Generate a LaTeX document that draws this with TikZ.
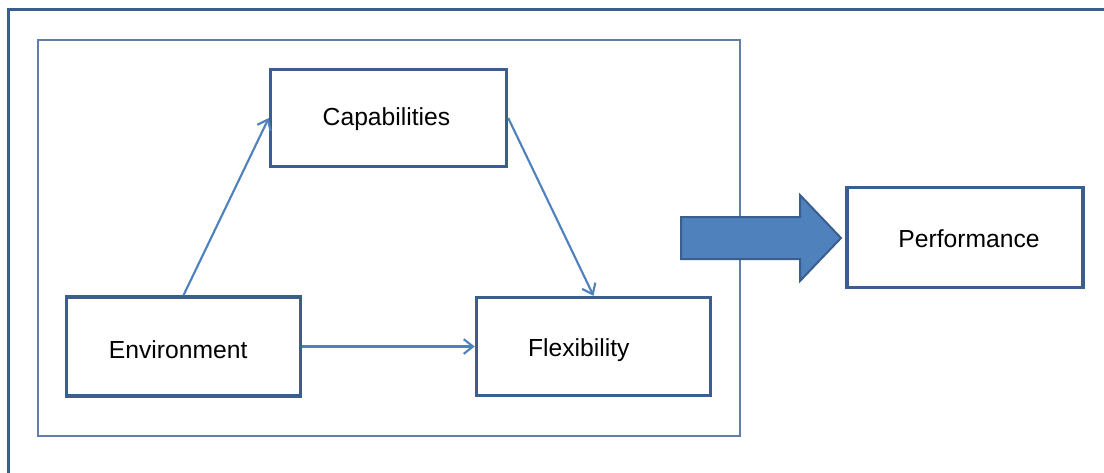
\documentclass[tikz,border=0pt]{standalone}
\usepackage{fontspec}
\setmainfont{Liberation Sans}
\usetikzlibrary{arrows.meta}
\definecolor{frameblue}{HTML}{3A5F8E}
\definecolor{lineblue}{HTML}{4F81BD}
\tikzset{
  box/.style={draw=frameblue, line width=2.6pt, fill=white, inner sep=0pt},
  txt/.style={font=\fontsize{18.5}{21}\selectfont, text=black},
  link/.style={draw=lineblue, line width=1.6pt, -{Straight Barb[length=7pt,width=11pt,line width=1.6pt]}},
}
\begin{document}
\begin{tikzpicture}[x=0.75pt, y=-0.75pt]
  \useasboundingbox (0,0) rectangle (1104,472);
  \clip (0,0) rectangle (1104,472);
  % outer frame, running past the page edge on the right and bottom
  \draw[frameblue, line width=2.6pt] (8.5,9.5) rectangle (1130,500);
  % inner panel around the three factors
  \draw[frameblue!80, line width=1pt] (38,40) rectangle (740,436);
  % factor boxes
  \node[box, minimum width=236*0.75pt, minimum height=97*0.75pt,
        label={[txt,xshift=-1.5pt,yshift=-1.2pt]center:Capabilities}] (cap) at (388.5,118) {};
  \node[box, minimum width=234*0.75pt, minimum height=99*0.75pt,
        label={[txt,xshift=-4pt,yshift=-2.5pt]center:Environment}] (env) at (183.5,346.5) {};
  \node[box, minimum width=234*0.75pt, minimum height=98*0.75pt,
        label={[txt,xshift=-11pt,yshift=-2.5pt]center:Flexibility}] (flex) at (593.5,346.5) {};
  \node[box, minimum width=236*0.75pt, minimum height=100*0.75pt,
        label={[txt,xshift=3pt,yshift=-1pt]center:Performance}] (perf) at (965,237.5) {};
  % relations between the factors
  \draw[link] (env.north) -- (cap.west);
  \draw[link] (cap.east) -- (flex.north);
  \draw[link] (env.east) -- (flex.west);
  % block arrow leading to performance
  \draw[frameblue, fill=lineblue, line width=1.5pt, line join=miter]
    (681,217) -- (800,217) -- (800,195) -- (841,238) -- (800,281) -- (800,259) -- (681,259) -- cycle;
\end{tikzpicture}
\end{document}
